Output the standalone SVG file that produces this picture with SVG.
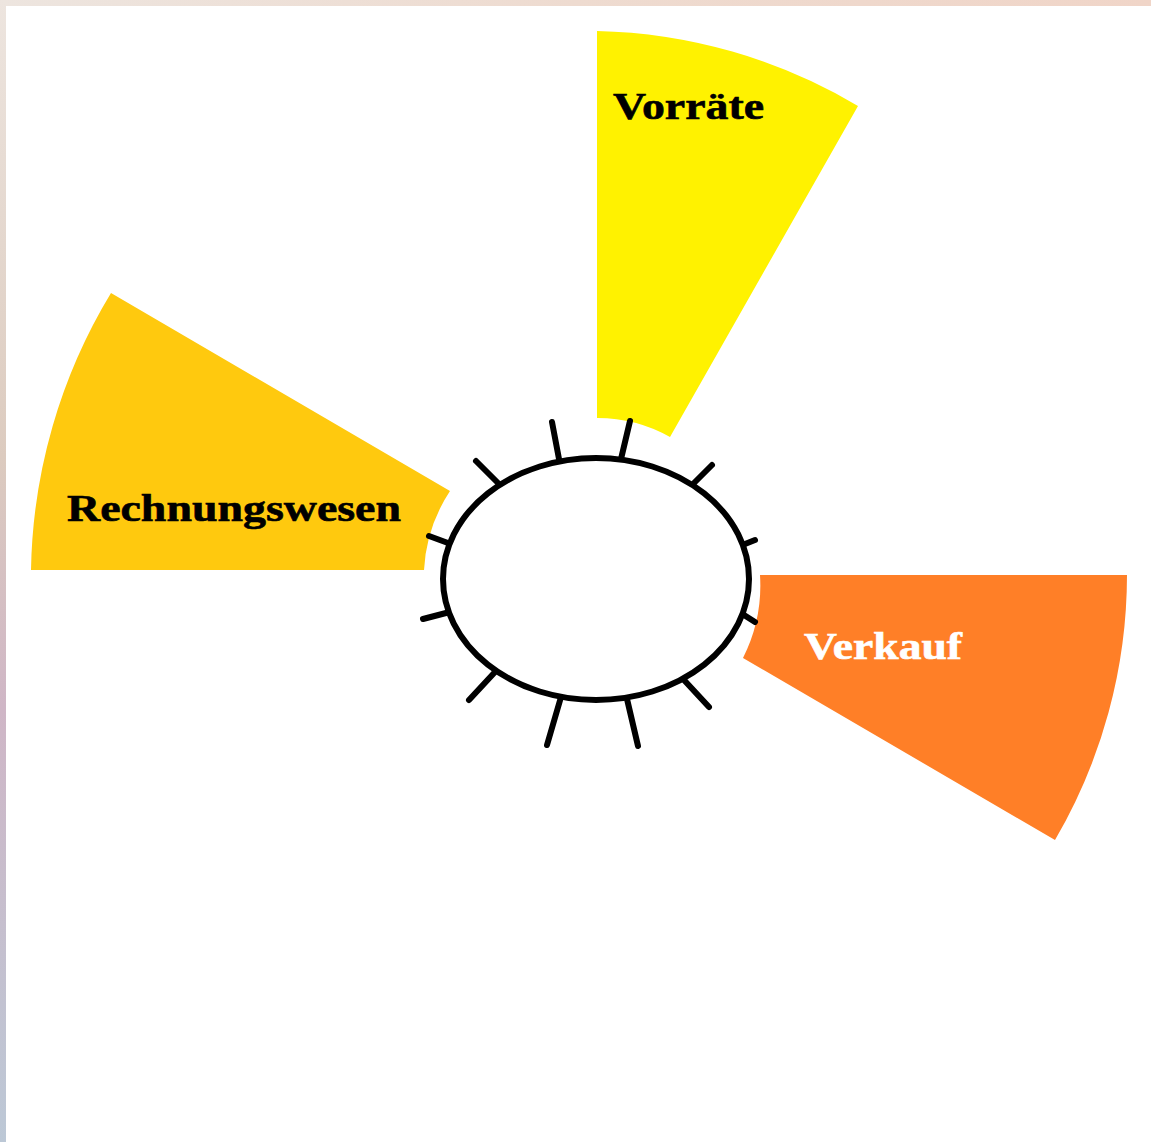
<svg xmlns="http://www.w3.org/2000/svg" width="1151" height="1142" viewBox="0 0 1151 1142">
  <defs>
    <linearGradient id="gTop" x1="0" y1="0" x2="1" y2="0">
      <stop offset="0" stop-color="#ede5df"/>
      <stop offset="0.5" stop-color="#eedbd0"/>
      <stop offset="1" stop-color="#f0d5c8"/>
    </linearGradient>
    <linearGradient id="gLeft" x1="0" y1="0" x2="0" y2="1">
      <stop offset="0" stop-color="#ede5df"/>
      <stop offset="0.4" stop-color="#dccbbf"/>
      <stop offset="0.62" stop-color="#cfb6c6"/>
      <stop offset="1" stop-color="#bcc8d6"/>
    </linearGradient>
    <style>
      .lbl { font-family: "Liberation Serif", "Times New Roman", serif; font-weight: bold; font-size: 38px; stroke-width: 0.6px; }
      .tick { stroke: #000; stroke-width: 6; stroke-linecap: round; fill: none; }
    </style>
  </defs>
  <rect x="0" y="0" width="1151" height="1142" fill="#ffffff"/>
  <rect x="0" y="0" width="1151" height="6" fill="url(#gTop)"/>
  <rect x="0" y="0" width="6" height="1142" fill="url(#gLeft)"/>

  <g id="node-vorraete">
    <path d="M597,31 A533,533 0 0,1 858,106 L670,437 A148,148 0 0,0 597,418 Z" fill="#fff200"/>
    <text class="lbl" x="613" y="119" fill="#000" stroke="#000" textLength="151" lengthAdjust="spacingAndGlyphs">Vorräte</text>
  </g>

  <g id="node-rechnungswesen">
    <path d="M31,570 A552,552 0 0,1 111,293 L450,491 A159,159 0 0,0 424,570 Z" fill="#ffc90e"/>
    <text class="lbl" x="67" y="521" fill="#000" stroke="#000" textLength="334" lengthAdjust="spacingAndGlyphs">Rechnungswesen</text>
  </g>

  <g id="node-verkauf">
    <path d="M760,575 L1127,575 A526,526 0 0,1 1055,840 L743,658 A161,161 0 0,0 760,575 Z" fill="#ff7f27"/>
    <text class="lbl" x="804" y="659" fill="#ffffff" stroke="#ffffff" textLength="158" lengthAdjust="spacingAndGlyphs">Verkauf</text>
  </g>

  <g id="connectors">
    <line class="tick" x1="552" y1="422" x2="559" y2="459"/>
    <line class="tick" x1="630" y1="421" x2="621" y2="459"/>
    <line class="tick" x1="712" y1="465" x2="694" y2="483"/>
    <line class="tick" x1="755" y1="540" x2="745" y2="544"/>
    <line class="tick" x1="755" y1="622" x2="744" y2="615"/>
    <line class="tick" x1="709" y1="707" x2="684" y2="680"/>
    <line class="tick" x1="638" y1="746" x2="627" y2="699"/>
    <line class="tick" x1="547" y1="745" x2="561" y2="697"/>
    <line class="tick" x1="469" y1="700" x2="495" y2="672"/>
    <line class="tick" x1="423" y1="619" x2="446" y2="613"/>
    <line class="tick" x1="429" y1="536" x2="448" y2="543"/>
    <line class="tick" x1="476" y1="461" x2="498" y2="483"/>
  </g>

  <g id="node-hub">
    <ellipse cx="596" cy="579" rx="153" ry="121" fill="#ffffff" stroke="#000" stroke-width="6"/>
  </g>
</svg>
